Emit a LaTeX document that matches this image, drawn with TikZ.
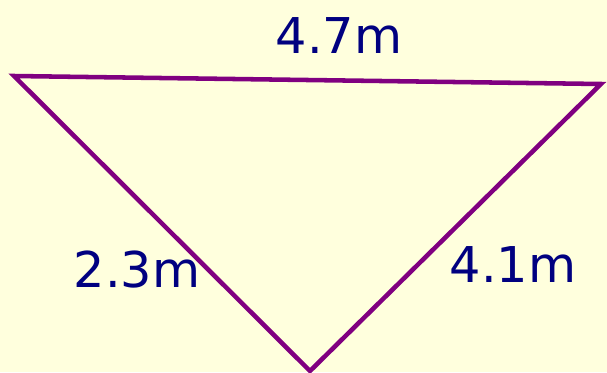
\documentclass[tikz,border=0pt]{standalone}
\usepackage{fontspec}
\setmainfont{DejaVu Sans}
\usepackage{xcolor}
\definecolor{bgyellow}{HTML}{FFFFDD}
\definecolor{sidepurple}{HTML}{800080}
\definecolor{labelnavy}{HTML}{000080}

\begin{document}
\begin{tikzpicture}[x=0.75pt, y=-0.75pt,
  side/.style={draw=sidepurple, line width=3.4pt, line join=miter},
  sidelabel/.style={anchor=base, text=labelnavy, inner sep=0pt, font=\fontsize{37}{40}\selectfont}]
  % Background
  \fill[bgyellow] (0,0) rectangle (607,372);
  \useasboundingbox (0,0) rectangle (607,372);

  % Corners
  \coordinate (left) at (14,76);
  \coordinate (right) at (601,84);
  \coordinate (bottom) at (310,371);

  % Triangle
  \draw[side] (left) -- (right) -- (bottom) -- cycle;

  % Lengths
  \node[sidelabel] (top len) at (339,53) {4.7m};
  \node[sidelabel] (left len) at (137,287) {2.3m};
  \node[sidelabel] (right len) at (513,282) {4.1m};
\end{tikzpicture}
\end{document}
